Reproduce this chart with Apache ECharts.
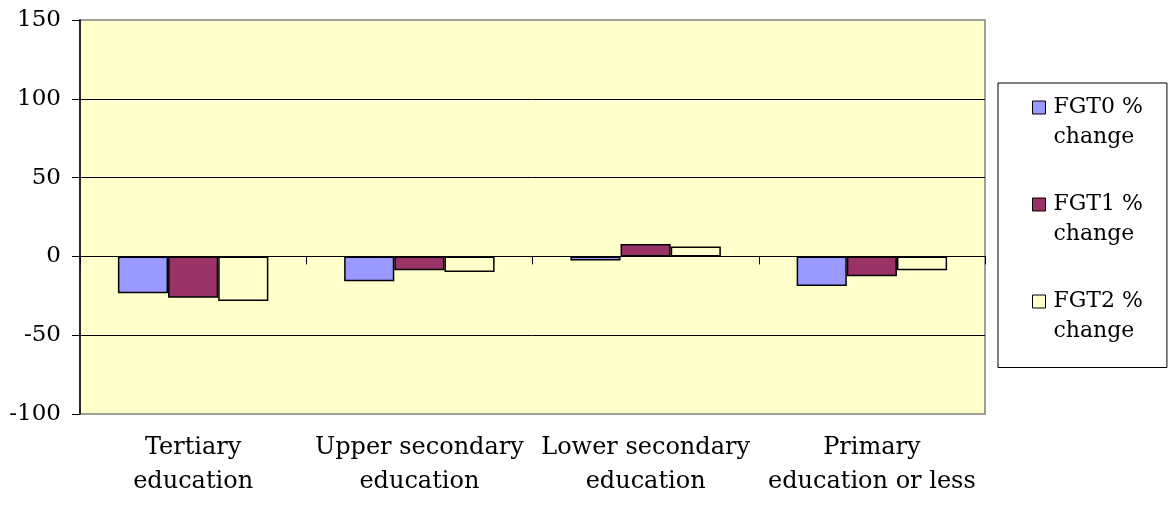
<!DOCTYPE html>
<html>
<head>
<meta charset="utf-8">
<script src="https://cdn.jsdelivr.net/npm/echarts@6/dist/echarts.min.js"></script>
<style>
html,body{margin:0;padding:0;background:#fff;}
#c{width:1172px;height:507px;}
</style>
</head>
<body>
<div id="c"></div>
<script>
const categories = ['Tertiary\neducation', 'Upper secondary\neducation', 'Lower secondary\neducation', 'Primary\neducation or less'];
const seriesNames = ['FGT0 %\nchange', 'FGT1 %\nchange', 'FGT2 %\nchange'];
const fgt0 = [-23.4, -15.8, -2.6, -18.8];
const fgt1 = [-26.2, -8.8, 7.8, -12.6];
const fgt2 = [-28.3, -9.9, 6.3, -8.8];
const colors = ['#9999FF', '#993366', '#FFFFCC'];
const yMin = -100, yMax = 150, yStep = 50;

const FONT = 'DejaVu Serif';
const chart = echarts.init(document.getElementById('c'), null, {renderer: 'canvas'});
const values = [fgt0, fgt1, fgt2];
chart.setOption({
  animation: false,
  backgroundColor: '#ffffff',
  grid: {
    left: 80, right: 187, top: 20, bottom: 93,
    show: true, backgroundColor: '#FFFFCC', borderColor: '#808080', borderWidth: 1.5
  },
  legend: {
    orient: 'vertical',
    left: 998, top: 83,
    padding: [-20.5, 24, 21, 34],
    itemWidth: 13, itemHeight: 13, itemGap: 7,
    borderColor: '#000', borderWidth: 1,
    icon: 'rect',
    itemStyle: {borderColor: '#000', borderWidth: 1},
    formatter: function (name) { return '\n' + name; },
    textStyle: {fontFamily: FONT, fontSize: 22, color: '#000', lineHeight: 30, padding: [0, 0, 0, 3]},
    data: seriesNames
  },
  xAxis: [
    {
      type: 'category', data: categories, position: 'bottom',
      axisLine: {show: false, onZero: false},
      axisTick: {show: false},
      axisLabel: {interval: 0, margin: 17, fontFamily: FONT, fontSize: 24, color: '#000', lineHeight: 34, align: 'center'}
    },
    {
      type: 'category', data: categories, position: 'top',
      axisLine: {show: true, onZero: true, lineStyle: {color: '#000', width: 1}},
      axisTick: {show: true, inside: true, length: 8, lineStyle: {color: '#000', width: 1}},
      axisLabel: {show: false}
    }
  ],
  yAxis: {
    type: 'value', min: yMin, max: yMax, interval: yStep,
    axisLine: {show: true, lineStyle: {color: '#000', width: 1.5}},
    axisTick: {show: true, length: 8, lineStyle: {color: '#000', width: 1}},
    axisLabel: {margin: 19, fontFamily: FONT, fontSize: 23, color: '#000'},
    splitLine: {show: true, showMinLine: false, showMaxLine: false, lineStyle: {color: '#000', width: 1}}
  },
  series: seriesNames.map((n, i) => ({
    name: n, type: 'bar', data: values[i],
    barGap: '0%', barCategoryGap: '33.5%',
    itemStyle: {color: colors[i], borderColor: '#000', borderWidth: 1.5}
  }))
});
</script>
</body>
</html>
